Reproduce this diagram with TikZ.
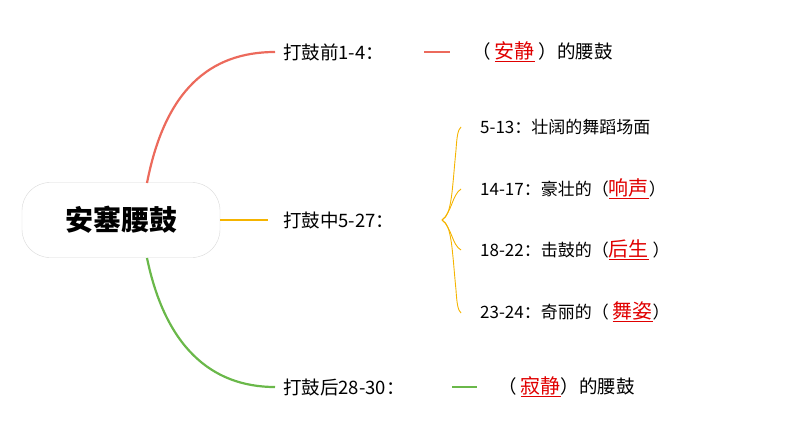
\documentclass[tikz,border=0pt]{standalone}
\usepackage{fontspec}
\setmainfont{Noto Sans CJK SC}
\definecolor{cred}{HTML}{EC6A5C}
\definecolor{corg}{HTML}{F5B400}
\definecolor{cgrn}{HTML}{6AB84A}
\definecolor{ans}{HTML}{E00000}
\tikzset{lbl/.style={anchor=west,inner sep=0pt,font=\fontsize{18.5pt}{21pt}\selectfont},
 sub/.style={anchor=west,inner sep=0pt,font=\fontsize{17pt}{20pt}\selectfont},
 br/.style={corg,line width=0.9pt}}
\newcommand{\ans}[1]{\textcolor{ans}{\underline{\fontsize{20pt}{22pt}\selectfont #1}}}
\begin{document}
\begin{tikzpicture}[x=1pt,y=-1pt]
\useasboundingbox (0,0) rectangle (794,447);
\node[draw=black!15,fill=white,rounded corners=28pt,minimum width=198pt,minimum height=75pt,font=\fontsize{28pt}{30pt}\selectfont\bfseries] (c) at (121,220) {安塞腰鼓};
\node[lbl] (a) at (283,52) {打鼓前1-4：};
\node[lbl] (b) at (283,220) {打鼓中5-27：};
\node[lbl] (d) at (283,387) {打鼓后28-30：};
\coordinate (ae) at (275,52); \coordinate (be) at (268,220); \coordinate (de) at (275,387);
\draw[cred,line width=2.2pt] (147,183) .. controls (165,90) and (210,52) .. (ae);
\draw[corg,line width=2.8pt] (c.east) -- (be);
\draw[cgrn,line width=2.2pt] (147,258) .. controls (165,345) and (210,387) .. (de);
\coordinate (r1) at (424,52); \coordinate (r2) at (450,52);
\draw[cred,line width=1.2pt] (r1) -- (r2);
\node[lbl] (at) at (472,52) {（ \ans{安静} ）的腰鼓};
\coordinate (g1) at (452,387); \coordinate (g2) at (477,387);
\draw[cgrn,line width=1.2pt] (g1) -- (g2);
\node[lbl] (dt) at (498,387) {（ \ans{寂静}）的腰鼓};
\coordinate (bo) at (442,220);
\node[sub] (s1) at (480,127) {5-13：壮阔的舞蹈场面};
\node[sub] (s2) at (480,189) {14-17：豪壮的（\ans{响声}）};
\node[sub] (s3) at (480,250) {18-22：击鼓的（\ans{后生} ）};
\node[sub] (s4) at (480,312) {23-24：奇丽的（ \ans{舞姿}）};
\draw[br] (bo) .. controls (452,215) and (452,190) .. (456,150) .. controls (457,135) and (458,130) .. (461,127);
\draw[br] (bo) .. controls (452,212) and (452,195) .. (461,189);
\draw[br] (bo) .. controls (452,228) and (452,245) .. (461,250);
\draw[br] (bo) .. controls (452,225) and (452,250) .. (456,290) .. controls (457,305) and (458,310) .. (461,313);
\end{tikzpicture}
\end{document}
